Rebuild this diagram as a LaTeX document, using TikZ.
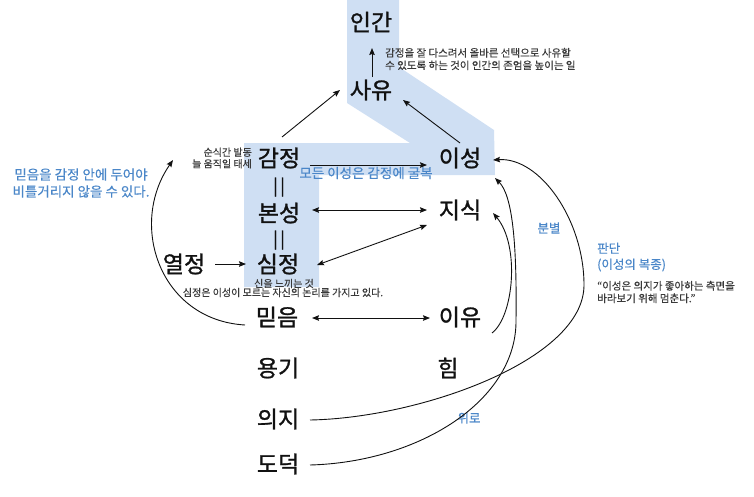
\documentclass[tikz,border=0pt]{standalone}
\usepackage{fontspec}
\setmainfont{Noto Sans CJK KR}
\newfontfamily\medfont[FakeBold=1.1]{Noto Sans CJK KR}
\newfontfamily\semifont[FakeBold=0.4]{Noto Sans CJK KR}
\usetikzlibrary{arrows.meta}
\definecolor{hl}{HTML}{CFDFF3}
\definecolor{bl}{HTML}{4A86C8}
\definecolor{dg}{HTML}{3A3A3A}
\definecolor{ink}{HTML}{111111}
\tikzset{
  big/.style={font=\medfont\fontsize{23}{26}\selectfont, text=ink, inner sep=1pt},
  eqs/.style={font=\medfont\fontsize{17}{20}\selectfont, text=ink, inner sep=0pt},
  sm/.style={font=\semifont\fontsize{10.5}{12.5}\selectfont, text=dg, inner sep=0pt},
  bt/.style={font=\semifont\fontsize{12.5}{16}\selectfont, text=bl, inner sep=0pt},
  arr/.style={-{Stealth[length=7pt,width=5.5pt,inset=1pt]}, line width=0.9pt, draw=ink},
  darr/.style={{Stealth[length=7pt,width=5.5pt,inset=1pt]}-{Stealth[length=7pt,width=5.5pt,inset=1pt]}, line width=0.9pt, draw=ink},
}
\begin{document}
\begin{tikzpicture}[x=1pt,y=-1pt]
\useasboundingbox (0,0) rectangle (754,496);
% highlight band
\fill[hl] (347,0) -- (399,0) -- (399,67) -- (494,130) -- (495,175) -- (319,175)
  -- (319,287) -- (244,287) -- (244,143) -- (410,143) -- (347,103) -- cycle;

% main labels
\node[big] (ingan) at (371,22) {인간};
\node[big] (sayu) at (371,90) {사유};
\node[big] (gam) at (279,158) {감정};
\node[eqs] (eq1) at (279,187) {|\hspace{2.5pt}|};
\node[big] (bon) at (279,213) {본성};
\node[eqs] (eq2) at (279,240) {|\hspace{2.5pt}|};
\node[big] (sim) at (278,264) {심정};
\node[big] (mid) at (277,317) {믿음};
\node[big] (yeol) at (184,264) {열정};
\node[big] (yong) at (278,368) {용기};
\node[big] (uiji) at (278,419) {의지};
\node[big] (dod) at (278,464) {도덕};
\node[big] (is) at (460,158) {이성};
\node[big] (jis) at (460,210) {지식};
\node[big] (iyu) at (460,317) {이유};
\node[big] (him) at (448,368) {힘};

% small notes
\node[sm, align=left, anchor=west] (note1) at (385,59) {감정을 잘 다스려서 올바른 선택으로 사유할\\수 있도록 하는 것이 인간의 존엄을 높이는 일};
\node[sm, font=\semifont\fontsize{10}{11.5}\selectfont, align=right, anchor=east] (quick) at (252,158) {순식간 발동\\늘 움직일 태세};
\node[sm, font=\semifont\fontsize{10}{12}\selectfont] (feel) at (284,283.5) {신을 느끼는 것};
\node[sm, font=\semifont\fontsize{10}{12}\selectfont] (logic) at (283,292.5) {심정은 이성이 모르는 자신의 논리를 가지고 있다.};
\node[sm, align=left, anchor=west] (quote) at (597,292) {“이성은 의지가 좋아하는 측면을\\바라보기 위해 멈춘다.”};

% blue notes
\node[bt, font=\semifont\fontsize{13.5}{17}\selectfont, align=center] (belief) at (81,183) {믿음을 감정 안에 두어야\\비틀거리지 않을 수 있다.};
\node[bt, font=\semifont\fontsize{13.5}{16}\selectfont] (all) at (366,173) {모든 이성은 감정에 굴복};
\node[bt] (bunb) at (549,228) {분별};
\node[bt, align=left, anchor=west] (pandan) at (597,257) {판단\\(이성의 복종)};
\node[bt] (wiro) at (469,418) {위로};

% straight connectors
\draw[arr] ([shift={(1,-13)}]sayu.center) -- ([shift={(1,26)}]ingan.center);
\draw[arr] ([shift={(3,-21)}]gam.center) -- ([shift={(-31,0)}]sayu.center);
\draw[arr] ([shift={(0,-15)}]is.center) -- ([shift={(32,10)}]sayu.center);
\draw[arr] ([shift={(31,7)}]gam.center) -- ([shift={(-33,7)}]is.center);
\draw[darr] ([shift={(33,-3)}]bon.center) -- ([shift={(-33,0)}]jis.center);
\draw[darr] ([shift={(39,1)}]sim.center) -- ([shift={(-33,15)}]jis.center);
\draw[darr] ([shift={(35,1)}]mid.center) -- ([shift={(-30,1)}]iyu.center);
\draw[arr] ([shift={(31,0)}]yeol.center) -- ([shift={(-32,0)}]sim.center);

% curved connectors
\coordinate (wmid) at (584,285);
\coordinate (dmid) at (516,320);
\draw[arr] ([shift={(-32,8)}]mid.center) .. controls +(-85,-5) and +(-45,65) .. ([shift={(-106,2)}]gam.center);
\draw[arr] ([shift={(32,1)}]uiji.center) .. controls +(110,-2) and +(0,75) .. (wmid)
  .. controls +(0,-65) and +(47,-3) .. ([shift={(33,2)}]is.center);
\draw[arr] ([shift={(32,1)}]dod.center) .. controls +(110,-3) and +(1,80) .. (dmid)
  .. controls +(1,-80) and +(17,17) .. ([shift={(35,20)}]is.center);
\draw[arr] ([shift={(32,16)}]iyu.center) .. controls +(22,-17) and +(27,32) .. ([shift={(33,3)}]jis.center);
\end{tikzpicture}
\end{document}
